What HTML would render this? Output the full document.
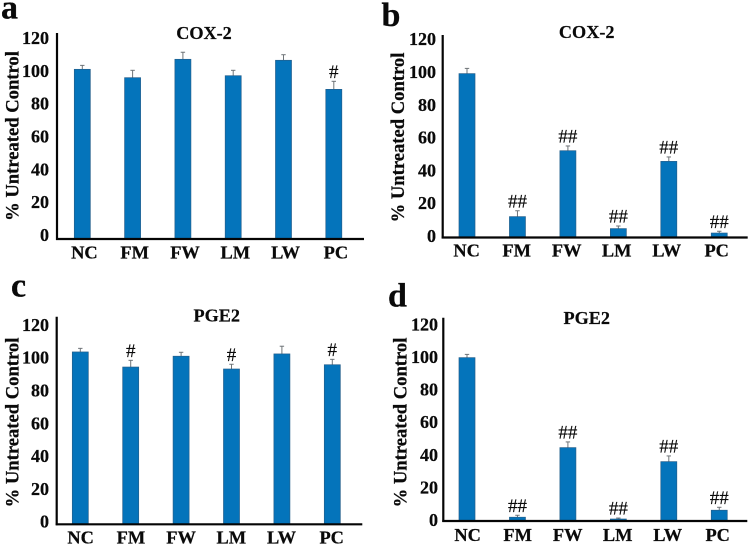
<!DOCTYPE html>
<html lang="en">
<head>
<meta charset="utf-8">
<title>COX-2 and PGE2 bar charts</title>
<style>
html,body{margin:0;padding:0;background:#fff;}
svg{display:block;}
text{font-family:"Liberation Serif",serif;fill:#0a0a0a;}
.lbl{font-weight:bold;font-size:18.4px;text-anchor:middle;stroke:#0a0a0a;stroke-width:.25px;}
.tick{font-weight:bold;font-size:18px;text-anchor:end;stroke:#0a0a0a;stroke-width:.25px;}
.ttl{font-weight:bold;font-size:18.2px;text-anchor:middle;stroke:#0a0a0a;stroke-width:.2px;}
.ytl{font-weight:bold;font-size:18.6px;text-anchor:middle;stroke:#0a0a0a;stroke-width:.25px;}
.ltr{font-weight:bold;font-size:34px;stroke:#0a0a0a;stroke-width:.3px;}
.hash{font-size:19px;text-anchor:middle;stroke:#0a0a0a;stroke-width:.15px;}
</style>
</head>
<body>
<svg id="chart" width="749" height="545" viewBox="0 0 749 545" xmlns="http://www.w3.org/2000/svg">
  <g id="panel-a">
    <text class="ltr" x="1" y="18.5">a</text>
    <text class="ttl" x="204" y="39">COX-2</text>
    <text class="ytl" transform="translate(18.5,136) rotate(-90)">% Untreated Control</text>
  </g>
  <g id="panel-b">
    <text class="ltr" x="381.5" y="26">b</text>
    <text class="ttl" x="586.7" y="38">COX-2</text>
    <text class="ytl" transform="translate(404,137.5) rotate(-90)">% Untreated Control</text>
  </g>
  <g id="panel-c">
    <text class="ltr" x="11" y="296.5">c</text>
    <text class="ttl" x="216.7" y="321.5">PGE2</text>
    <text class="ytl" transform="translate(18.5,422.5) rotate(-90)">% Untreated Control</text>
  </g>
  <g id="panel-d">
    <text class="ltr" x="388" y="306.5">d</text>
    <text class="ttl" x="586.7" y="324">PGE2</text>
    <text class="ytl" transform="translate(406.5,422.5) rotate(-90)">% Untreated Control</text>
  </g>
</svg>
<script>
var categories = ['NC', 'FM', 'FW', 'LM', 'LW', 'PC'];
var tickLabels = [0, 20, 40, 60, 80, 100, 120];

var cox2aValues = [100.9, 95.8, 107, 97, 106.4, 88.7];
var cox2aErrors = [2.4, 4.5, 4.3, 3.3, 3.4, 4.9];
var cox2aMarks = ['', '', '', '', '', '#'];

var cox2bValues = [99, 11.8, 52, 4.5, 45.5, 1.8];
var cox2bErrors = [3.2, 3.6, 2.9, 1.6, 2.7, 1.1];
var cox2bMarks = ['', '##', '##', '##', '##', '##'];

var pge2cValues = [103.5, 94.3, 100.9, 93.1, 102.3, 95.7];
var pge2cErrors = [2.2, 4.1, 2.4, 2.9, 4.7, 3.3];
var pge2cMarks = ['', '#', '', '#', '', '#'];

var pge2dValues = [99.6, 1.7, 44.4, 0.6, 35.8, 6];
var pge2dErrors = [2, 1.2, 3.5, 0.6, 3.5, 1.8];
var pge2dMarks = ['', '##', '##', '##', '##', '##'];

var SVGNS = 'http://www.w3.org/2000/svg';

function shape(parent, tag, attrs) {
  var el = document.createElementNS(SVGNS, tag);
  for (var k in attrs) { el.setAttribute(k, attrs[k]); }
  parent.appendChild(el);
  return el;
}

function drawPanel(id, g, values, errors, marks) {
  var root = document.getElementById(id);
  function yScale(v) { return g.y0 - v * g.unit; }
  function xBar(i) { return g.barStart + g.barStep * i; }
  function xLabel(i) { return g.labelStart + g.labelStep * i; }

  values.forEach(function (v, i) {
    var top = yScale(v);
    var errTop = yScale(v + errors[i]);
    var cx = xBar(i);

    var stem = shape(root, 'line', { x1: cx, x2: cx, y1: top, y2: errTop, stroke: '#6f7478', 'stroke-width': 1 });
    
    

    var cap = shape(root, 'line', { x1: cx - 2.2, x2: cx + 2.2, y1: errTop, y2: errTop, stroke: '#6f7478', 'stroke-width': 1 });
    
    

    var bar = shape(root, 'rect', { x: cx - 8, y: top, width: 16, height: g.base - top, fill: '#0474bb', stroke: '#245f8c', 'stroke-width': 0.7 });
    
    

    if (marks[i]) {
      var mark = shape(root, 'text', { 'class': 'hash', x: cx, y: errTop - 9.5 + 6.2 });
      mark.textContent = marks[i];
      
      
    }

    var label = shape(root, 'text', { 'class': 'lbl', x: xLabel(i) + 0.7, y: g.labelY + 6 });
    label.textContent = categories[i];
    
    
  });

  tickLabels.forEach(function (t) {
    var tick = shape(root, 'text', { 'class': 'tick', x: g.tickRight, y: yScale(t) + 6 });
    tick.textContent = t;
    
    
  });

  var yAxis = shape(root, 'line', { x1: g.axisX, x2: g.axisX, y1: g.axisTop, y2: g.base + 1, stroke: '#050505', 'stroke-width': 2.2 });
  
  

  var xAxis = shape(root, 'line', { x1: g.axisX - 1, x2: g.axisRight, y1: g.base, y2: g.base, stroke: '#050505', 'stroke-width': 2.2 });
  
  
}

drawPanel('panel-a', { y0: 235, unit: 1.642, base: 239, axisX: 57, axisTop: 33, axisRight: 364, barStart: 82.3, barStep: 50.3, labelStart: 83.7, labelStep: 50.3, labelY: 252.7, tickRight: 49 }, cox2aValues, cox2aErrors, cox2aMarks);
drawPanel('panel-b', { y0: 236, unit: 1.64, base: 237.5, axisX: 442.7, axisTop: 35, axisRight: 747.7, barStart: 467, barStep: 50.45, labelStart: 466, labelStep: 50, labelY: 250.7, tickRight: 436 }, cox2bValues, cox2bErrors, cox2bMarks);
drawPanel('panel-c', { y0: 521.7, unit: 1.64, base: 524.3, axisX: 56.7, axisTop: 316.7, axisRight: 362.3, barStart: 80.3, barStep: 50.4, labelStart: 80, labelStep: 50.2, labelY: 537.7, tickRight: 49 }, pge2cValues, pge2cErrors, pge2cMarks);
drawPanel('panel-d', { y0: 520, unit: 1.63, base: 521, axisX: 443.3, axisTop: 317.7, axisRight: 747.3, barStart: 467, barStep: 50.45, labelStart: 467, labelStep: 50, labelY: 535, tickRight: 438 }, pge2dValues, pge2dErrors, pge2dMarks);
</script>
</body>
</html>
